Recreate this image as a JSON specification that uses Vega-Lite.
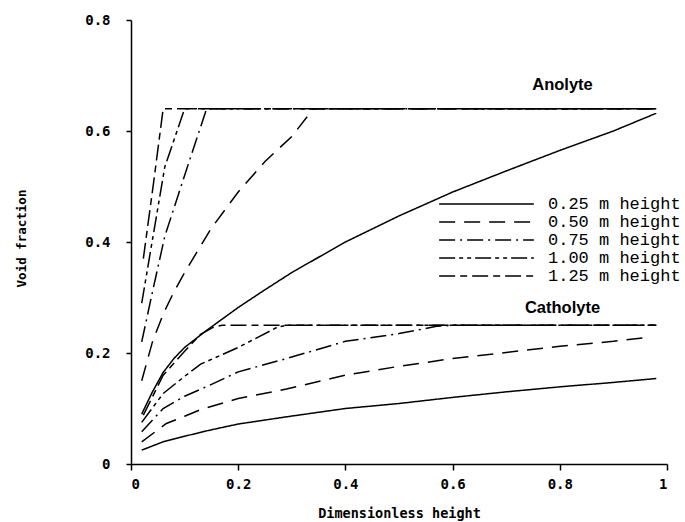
{
  "$schema": "https://vega.github.io/schema/vega-lite/v6.json",
  "autosize": "none",
  "width": 536,
  "height": 444,
  "padding": {"left": 131, "top": 20, "right": 18, "bottom": 58},
  "background": "white",
  "config": {"view": {"stroke": null}},
  "datasets": {
    "curves": [
      {"side": "Anolyte", "h": "0.25 m height", "x": 0.02, "v": 0.09},
      {"side": "Anolyte", "h": "0.25 m height", "x": 0.04, "v": 0.13},
      {"side": "Anolyte", "h": "0.25 m height", "x": 0.06, "v": 0.165},
      {"side": "Anolyte", "h": "0.25 m height", "x": 0.08, "v": 0.19},
      {"side": "Anolyte", "h": "0.25 m height", "x": 0.1, "v": 0.21},
      {"side": "Anolyte", "h": "0.25 m height", "x": 0.14, "v": 0.24},
      {"side": "Anolyte", "h": "0.25 m height", "x": 0.2, "v": 0.282},
      {"side": "Anolyte", "h": "0.25 m height", "x": 0.25, "v": 0.314},
      {"side": "Anolyte", "h": "0.25 m height", "x": 0.3, "v": 0.345},
      {"side": "Anolyte", "h": "0.25 m height", "x": 0.4, "v": 0.4},
      {"side": "Anolyte", "h": "0.25 m height", "x": 0.5, "v": 0.447},
      {"side": "Anolyte", "h": "0.25 m height", "x": 0.6, "v": 0.49},
      {"side": "Anolyte", "h": "0.25 m height", "x": 0.7, "v": 0.528},
      {"side": "Anolyte", "h": "0.25 m height", "x": 0.8, "v": 0.565},
      {"side": "Anolyte", "h": "0.25 m height", "x": 0.9, "v": 0.6},
      {"side": "Anolyte", "h": "0.25 m height", "x": 0.98, "v": 0.632},

      {"side": "Anolyte", "h": "0.50 m height", "x": 0.02, "v": 0.15},
      {"side": "Anolyte", "h": "0.50 m height", "x": 0.04, "v": 0.22},
      {"side": "Anolyte", "h": "0.50 m height", "x": 0.06, "v": 0.27},
      {"side": "Anolyte", "h": "0.50 m height", "x": 0.08, "v": 0.31},
      {"side": "Anolyte", "h": "0.50 m height", "x": 0.1, "v": 0.345},
      {"side": "Anolyte", "h": "0.50 m height", "x": 0.15, "v": 0.425},
      {"side": "Anolyte", "h": "0.50 m height", "x": 0.2, "v": 0.49},
      {"side": "Anolyte", "h": "0.50 m height", "x": 0.25, "v": 0.545},
      {"side": "Anolyte", "h": "0.50 m height", "x": 0.3, "v": 0.59},
      {"side": "Anolyte", "h": "0.50 m height", "x": 0.34, "v": 0.64},
      {"side": "Anolyte", "h": "0.50 m height", "x": 0.98, "v": 0.64},

      {"side": "Anolyte", "h": "0.75 m height", "x": 0.02, "v": 0.22},
      {"side": "Anolyte", "h": "0.75 m height", "x": 0.04, "v": 0.31},
      {"side": "Anolyte", "h": "0.75 m height", "x": 0.063, "v": 0.41},
      {"side": "Anolyte", "h": "0.75 m height", "x": 0.1, "v": 0.52},
      {"side": "Anolyte", "h": "0.75 m height", "x": 0.141, "v": 0.64},
      {"side": "Anolyte", "h": "0.75 m height", "x": 0.98, "v": 0.64},

      {"side": "Anolyte", "h": "1.00 m height", "x": 0.02, "v": 0.29},
      {"side": "Anolyte", "h": "1.00 m height", "x": 0.063, "v": 0.535},
      {"side": "Anolyte", "h": "1.00 m height", "x": 0.1, "v": 0.64},
      {"side": "Anolyte", "h": "1.00 m height", "x": 0.98, "v": 0.64},

      {"side": "Anolyte", "h": "1.25 m height", "x": 0.023, "v": 0.37},
      {"side": "Anolyte", "h": "1.25 m height", "x": 0.042, "v": 0.506},
      {"side": "Anolyte", "h": "1.25 m height", "x": 0.06, "v": 0.64},
      {"side": "Anolyte", "h": "1.25 m height", "x": 0.98, "v": 0.64},

      {"side": "Catholyte", "h": "0.25 m height", "x": 0.02, "v": 0.025},
      {"side": "Catholyte", "h": "0.25 m height", "x": 0.06, "v": 0.04},
      {"side": "Catholyte", "h": "0.25 m height", "x": 0.1, "v": 0.05},
      {"side": "Catholyte", "h": "0.25 m height", "x": 0.147, "v": 0.061},
      {"side": "Catholyte", "h": "0.25 m height", "x": 0.2, "v": 0.072},
      {"side": "Catholyte", "h": "0.25 m height", "x": 0.29, "v": 0.085},
      {"side": "Catholyte", "h": "0.25 m height", "x": 0.4, "v": 0.1},
      {"side": "Catholyte", "h": "0.25 m height", "x": 0.5, "v": 0.109},
      {"side": "Catholyte", "h": "0.25 m height", "x": 0.6, "v": 0.12},
      {"side": "Catholyte", "h": "0.25 m height", "x": 0.7, "v": 0.13},
      {"side": "Catholyte", "h": "0.25 m height", "x": 0.8, "v": 0.139},
      {"side": "Catholyte", "h": "0.25 m height", "x": 0.9, "v": 0.147},
      {"side": "Catholyte", "h": "0.25 m height", "x": 0.98, "v": 0.154},

      {"side": "Catholyte", "h": "0.50 m height", "x": 0.02, "v": 0.04},
      {"side": "Catholyte", "h": "0.50 m height", "x": 0.066, "v": 0.073},
      {"side": "Catholyte", "h": "0.50 m height", "x": 0.1, "v": 0.086},
      {"side": "Catholyte", "h": "0.50 m height", "x": 0.13, "v": 0.098},
      {"side": "Catholyte", "h": "0.50 m height", "x": 0.2, "v": 0.118},
      {"side": "Catholyte", "h": "0.50 m height", "x": 0.29, "v": 0.135},
      {"side": "Catholyte", "h": "0.50 m height", "x": 0.4, "v": 0.16},
      {"side": "Catholyte", "h": "0.50 m height", "x": 0.5, "v": 0.176},
      {"side": "Catholyte", "h": "0.50 m height", "x": 0.6, "v": 0.19},
      {"side": "Catholyte", "h": "0.50 m height", "x": 0.7, "v": 0.201},
      {"side": "Catholyte", "h": "0.50 m height", "x": 0.8, "v": 0.212},
      {"side": "Catholyte", "h": "0.50 m height", "x": 0.9, "v": 0.221},
      {"side": "Catholyte", "h": "0.50 m height", "x": 0.97, "v": 0.229},

      {"side": "Catholyte", "h": "0.75 m height", "x": 0.02, "v": 0.058},
      {"side": "Catholyte", "h": "0.75 m height", "x": 0.06, "v": 0.1},
      {"side": "Catholyte", "h": "0.75 m height", "x": 0.1, "v": 0.122},
      {"side": "Catholyte", "h": "0.75 m height", "x": 0.147, "v": 0.142},
      {"side": "Catholyte", "h": "0.75 m height", "x": 0.2, "v": 0.166},
      {"side": "Catholyte", "h": "0.75 m height", "x": 0.29, "v": 0.19},
      {"side": "Catholyte", "h": "0.75 m height", "x": 0.4, "v": 0.221},
      {"side": "Catholyte", "h": "0.75 m height", "x": 0.5, "v": 0.235},
      {"side": "Catholyte", "h": "0.75 m height", "x": 0.57, "v": 0.248},
      {"side": "Catholyte", "h": "0.75 m height", "x": 0.6, "v": 0.25},
      {"side": "Catholyte", "h": "0.75 m height", "x": 0.98, "v": 0.25},

      {"side": "Catholyte", "h": "1.00 m height", "x": 0.02, "v": 0.075},
      {"side": "Catholyte", "h": "1.00 m height", "x": 0.06, "v": 0.127},
      {"side": "Catholyte", "h": "1.00 m height", "x": 0.1, "v": 0.158},
      {"side": "Catholyte", "h": "1.00 m height", "x": 0.13, "v": 0.18},
      {"side": "Catholyte", "h": "1.00 m height", "x": 0.2, "v": 0.21},
      {"side": "Catholyte", "h": "1.00 m height", "x": 0.272, "v": 0.246},
      {"side": "Catholyte", "h": "1.00 m height", "x": 0.29, "v": 0.25},
      {"side": "Catholyte", "h": "1.00 m height", "x": 0.98, "v": 0.25},

      {"side": "Catholyte", "h": "1.25 m height", "x": 0.023, "v": 0.088},
      {"side": "Catholyte", "h": "1.25 m height", "x": 0.06, "v": 0.16},
      {"side": "Catholyte", "h": "1.25 m height", "x": 0.1, "v": 0.203},
      {"side": "Catholyte", "h": "1.25 m height", "x": 0.129, "v": 0.233},
      {"side": "Catholyte", "h": "1.25 m height", "x": 0.153, "v": 0.246},
      {"side": "Catholyte", "h": "1.25 m height", "x": 0.17, "v": 0.25},
      {"side": "Catholyte", "h": "1.25 m height", "x": 0.98, "v": 0.25}
    ],
    "labels": [
      {"x": 0.805, "v": 0.674, "t": "Anolyte"},
      {"x": 0.805, "v": 0.272, "t": "Catholyte"}
    ]
  },
  "layer": [
    {
      "data": {"name": "curves"},
      "mark": {"type": "line", "color": "black", "strokeWidth": 1.5},
      "encoding": {
        "x": {
          "field": "x", "type": "quantitative",
          "scale": {"domain": [0, 1], "nice": false, "zero": false},
          "axis": {
            "values": [0, 0.2, 0.4, 0.6, 0.8, 1],
            "format": "~g",
            "title": "Dimensionless height",
            "grid": false,
            "domainColor": "black", "domainWidth": 1.5,
            "tickColor": "black", "tickWidth": 1.5, "tickSize": 6,
            "labelPadding": 7,
            "labelFont": "DejaVu Sans Mono", "labelFontWeight": "bold", "labelFontSize": 14, "labelColor": "black",
            "titleFont": "DejaVu Sans Mono", "titleFontWeight": "bold", "titleFontSize": 13.5, "titleColor": "black",
            "titleY": 49, "titleBaseline": "middle"
          }
        },
        "y": {
          "field": "v", "type": "quantitative",
          "scale": {"domain": [0, 0.8], "nice": false, "zero": false},
          "axis": {
            "values": [0, 0.2, 0.4, 0.6, 0.8],
            "format": "~g",
            "title": "Void fraction",
            "grid": false,
            "domainColor": "black", "domainWidth": 1.5,
            "tickColor": "black", "tickWidth": 1.5, "tickSize": 5,
            "labelPadding": 16,
            "labelFont": "DejaVu Sans Mono", "labelFontWeight": "bold", "labelFontSize": 14, "labelColor": "black",
            "titleFont": "DejaVu Sans Mono", "titleFontWeight": "bold", "titleFontSize": 12.5, "titleColor": "black",
            "titleX": -110, "titleY": 218, "titleAngle": -90, "titleAlign": "center", "titleBaseline": "middle"
          }
        },
        "detail": {"field": "side", "type": "nominal"},
        "strokeDash": {
          "field": "h", "type": "nominal",
          "scale": {
            "domain": ["0.25 m height", "0.50 m height", "0.75 m height", "1.00 m height", "1.25 m height"],
            "range": [[1, 0], [16, 9], [16, 5, 2, 5], [16, 4, 4, 4, 4, 4], [16, 5, 7, 5]]
          },
          "legend": {
            "title": null,
            "orient": "none",
            "legendX": 347,
            "legendY": 175.6,
            "symbolType": "M-6.4,0L6.4,0",
            "symbolSize": 219,
            "symbolStrokeColor": "black",
            "symbolStrokeWidth": 1.5,
            "labelFont": "Liberation Mono",
            "labelFontSize": 17,
            "labelColor": "black",
            "labelOffset": 53,
            "rowPadding": 0,
            "padding": 0
          }
        }
      }
    },
    {
      "data": {"name": "labels"},
      "mark": {"type": "text", "font": "Liberation Sans", "fontWeight": "bold", "fontSize": 16.5, "color": "black", "align": "center", "baseline": "alphabetic"},
      "encoding": {
        "x": {"field": "x", "type": "quantitative"},
        "y": {"field": "v", "type": "quantitative"},
        "text": {"field": "t"}
      }
    }
  ]
}
